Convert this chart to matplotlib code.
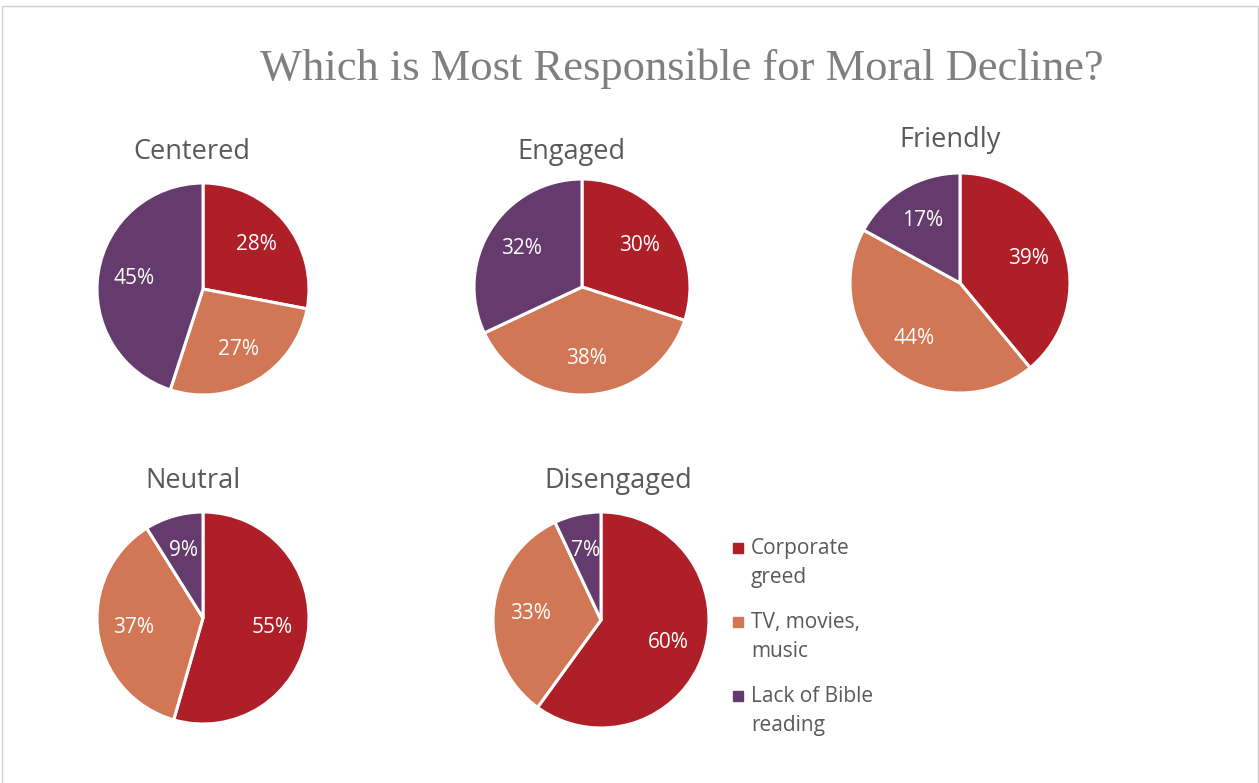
import matplotlib.pyplot as plt
from matplotlib.lines import Line2D
from matplotlib.patches import Rectangle

# Survey answers by segment (percent)
segments = ['Centered', 'Engaged', 'Friendly', 'Neutral', 'Disengaged']
corporate_greed = [28, 30, 39, 55, 60]
tv_movies_music = [27, 38, 44, 37, 33]
lack_of_bible = [45, 32, 17, 9, 7]

categories = ['Corporate\ngreed', 'TV, movies,\nmusic', 'Lack of Bible\nreading']
colors = ['#AE1F28', '#D27755', '#643B6C']

W, H = 1259, 783
fig = plt.figure(figsize=(W / 100, H / 100), dpi=100)
fig.patch.set_facecolor('white')

# thin frame round the chart area
fig.add_artist(Rectangle((2 / W, -0.01), (1256 / W), (H - 6) / H + 0.01,
                         transform=fig.transFigure, fill=False,
                         edgecolor='#d0d0d0', linewidth=1))

fig.text(682 / W, 1 - 69 / H, 'Which is Most Responsible for Moral Decline?',
         ha='center', va='center', fontsize=32, color='#7f7f7f',
         family='Liberation Serif')

# pie centres and radii in pixels, plus title positions
layout = [
    (203, 289, 106, 192, 152),
    (582, 287, 108, 571, 152),
    (960, 283, 110, 950, 140),
    (203, 618, 106, 193, 481),
    (601, 620, 108, 618, 481),
]

for i, name in enumerate(segments):
    cx, cy, r, tx, ty = layout[i]
    ax = fig.add_axes([(cx - r) / W, 1 - (cy + r) / H, 2 * r / W, 2 * r / H])
    vals = [corporate_greed[i], tv_movies_music[i], lack_of_bible[i]]
    ax.pie(vals, colors=colors, startangle=90, counterclock=False,
           autopct=lambda p, v=vals: '{:d}%'.format(int(round(p * sum(v) / 100))),
           pctdistance=0.66,
           wedgeprops=dict(edgecolor='white', linewidth=2.2),
           textprops=dict(color='white', fontsize=15, family='Open Sans'))
    ax.set_xlim(-1, 1)
    ax.set_ylim(-1, 1)
    ax.set_aspect('equal')
    ax.axis('off')
    fig.text(tx / W, 1 - ty / H, name, ha='center', va='center',
             fontsize=19.5, color='#595959', family='Open Sans')

# legend: square marker beside the first line of each two-line label
for k, (lab, c) in enumerate(zip(categories, colors)):
    y_first = 548 + 74 * k
    fig.add_artist(Line2D([738 / W], [1 - y_first / H], marker='s',
                          markersize=6.5, color=c, linestyle='none',
                          transform=fig.transFigure))
    fig.text(751 / W, 1 - (y_first + 15) / H, lab, ha='left', va='center',
             fontsize=15, color='#595959', family='Open Sans',
             linespacing=1.55)

fig.savefig('out.png', dpi=100, facecolor='white')
